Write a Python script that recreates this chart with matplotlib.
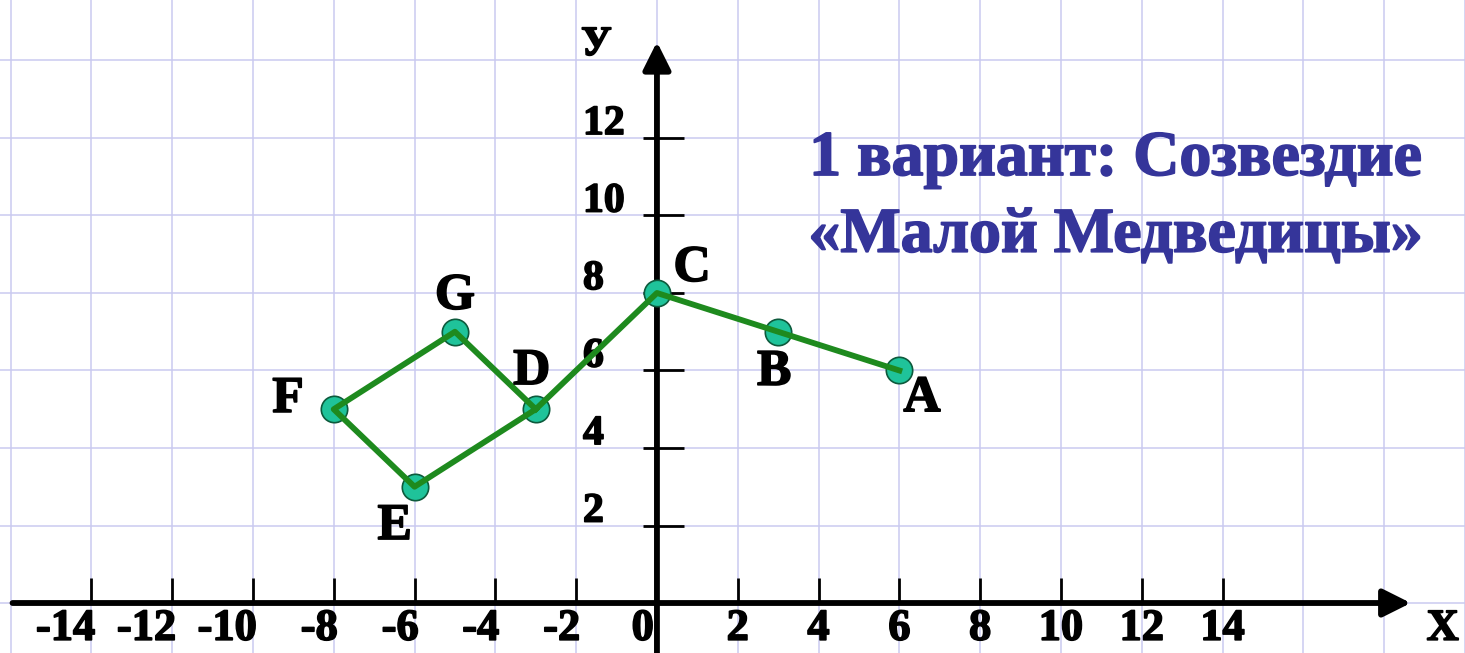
import matplotlib
matplotlib.use('Agg')
import matplotlib.pyplot as plt
import matplotlib.patheffects as pe
from matplotlib import font_manager

# constellation points, in drawing order
names = ['A', 'B', 'C', 'D', 'E', 'F', 'G']
xs = [6, 3, 0, -3, -6, -8, -5]
ys = [6, 7, 8, 5, 3, 5, 7]
path = ['A', 'B', 'C', 'D', 'E', 'F', 'G', 'D']

x_ticks = [-14, -12, -10, -8, -6, -4, -2, 2, 4, 6, 8, 10, 12, 14]
y_ticks = [2, 4, 6, 8, 10, 12]

title_lines = ['1 вариант: Созвездие', '«Малой Медведицы»']

# where each letter sits relative to its point
label_offset = {'A': (0.56, -0.74), 'B': (-0.1, -1.06), 'C': (0.87, 0.62),
                'D': (-0.1, 0.96), 'E': (-0.49, -1.04), 'F': (-1.13, 0.24),
                'G': (0.0, 0.9)}

bold_file = None
for f in font_manager.fontManager.ttflist:
    if f.name == 'Liberation Serif' and f.weight == 700 and f.style == 'normal':
        bold_file = f.fname
if bold_file is None:
    bold_file = font_manager.findfont(
        font_manager.FontProperties(family='serif', weight='bold'))


def bold(size):
    return font_manager.FontProperties(fname=bold_file, size=size)


def heavy(color):
    # a thin stroke makes the letters as fat as in the picture
    return [pe.withStroke(linewidth=1.2, foreground=color)]


fig = plt.figure(figsize=(14.65, 6.53), dpi=100)
ax = fig.add_axes([0, 0, 1, 1])
ax.set_xlim(-16.26, 20.0)
ax.set_ylim(-1.29, 15.56)
ax.axis('off')

# grid paper
for gx in range(-16, 21, 2):
    ax.axvline(gx, color='#cacaf0', lw=1.1, zorder=0)
for gy in range(-2, 17, 2):
    ax.axhline(gy, color='#cacaf0', lw=1.1, zorder=0)

# axes with arrows
ax.annotate('', xy=(18.66, 0), xytext=(-15.95, 0),
            arrowprops=dict(arrowstyle='-|>', lw=4.2, color='black',
                            mutation_scale=42, shrinkA=0, shrinkB=0), zorder=2)
ax.annotate('', xy=(0, 14.48), xytext=(0, -1.5),
            arrowprops=dict(arrowstyle='-|>', lw=4.2, color='black',
                            mutation_scale=42, shrinkA=0, shrinkB=0), zorder=2)

ax.vlines(x_ticks, 0, 0.65, color='black', lw=2, zorder=2)
ax.hlines(y_ticks, -0.35, 0.67, color='black', lw=2, zorder=2)

xfont = bold(32)
for t in x_ticks:
    if t < 0:
        ax.text(t + 0.1, -0.95, str(t), ha='right', va='baseline',
                fontproperties=xfont, path_effects=heavy('black'))
    else:
        ax.text(t, -0.95, str(t), ha='center', va='baseline',
                fontproperties=xfont, path_effects=heavy('black'))
ax.text(-0.35, -0.95, '0', ha='center', va='baseline',
        fontproperties=xfont, path_effects=heavy('black'))
yfont = bold(30)
for t in y_ticks:
    ax.text(-1.83, t + 0.1, str(t), ha='left', va='baseline',
            fontproperties=yfont, path_effects=heavy('black'))

ax.text(19.45, -0.95, 'X', ha='center', va='baseline', fontproperties=xfont,
        path_effects=heavy('black'))
ax.text(-1.5, 14.4, 'У', ha='center', va='center', fontproperties=yfont,
        path_effects=heavy('black'))

# constellation
idx = [names.index(n) for n in path]
px = [xs[i] for i in idx]
py = [ys[i] for i in idx]
ax.plot(xs, ys, 'o', ms=19, mfc='#1fc39a', mec='#0d5a3c', mew=1.2, zorder=3)
ax.plot(px, py, '-', color='#1e8a1e', lw=4.2, zorder=4)

for n, x, y in zip(names, xs, ys):
    dx, dy = label_offset[n]
    ax.text(x + dx, y + dy, n, ha='center', va='center', fontproperties=bold(37),
            path_effects=heavy('black'), zorder=5)

title_color = '#35359a'
ax.text(11.34, 11.43, title_lines[0], ha='center', va='center',
        fontproperties=bold(46), color=title_color, path_effects=heavy(title_color))
ax.text(11.34, 9.45, title_lines[1], ha='center', va='center',
        fontproperties=bold(46), color=title_color, path_effects=heavy(title_color))

fig.savefig('out.png', dpi=100)
